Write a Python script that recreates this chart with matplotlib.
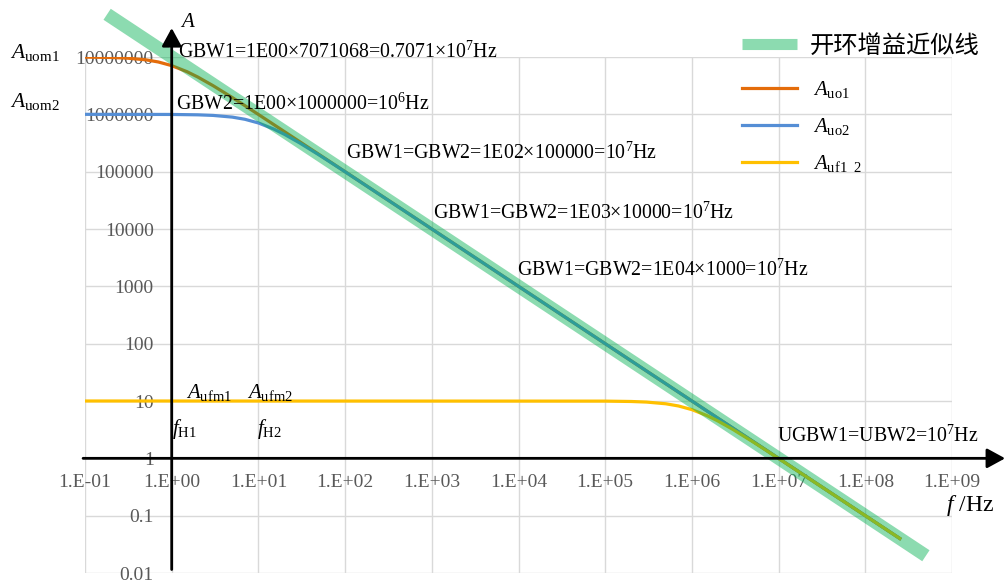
import matplotlib.pyplot as plt

plt.rcParams['font.family'] = ['Liberation Serif', 'Noto Sans CJK SC']
plt.rcParams['mathtext.fontset'] = 'custom'
plt.rcParams['mathtext.rm'] = 'Liberation Serif'
plt.rcParams['mathtext.it'] = 'Liberation Serif:italic'
plt.rcParams['mathtext.bf'] = 'Liberation Serif:bold'

# axis ticks (log-log, Excel style labels)
x_ticks = [1e-1, 1e0, 1e1, 1e2, 1e3, 1e4, 1e5, 1e6, 1e7, 1e8, 1e9]
x_tick_labels = ['1.E-01', '1.E+00', '1.E+01', '1.E+02', '1.E+03', '1.E+04',
                 '1.E+05', '1.E+06', '1.E+07', '1.E+08', '1.E+09']
y_ticks = [1e-2, 1e-1, 1e0, 1e1, 1e2, 1e3, 1e4, 1e5, 1e6, 1e7]
y_tick_labels = ['0.01', '0.1', '1', '10', '100', '1000', '10000',
                 '100000', '1000000', '10000000']

# open-loop gain asymptote (-20dB/dec through 1e7 Hz)
f_asym = [0.18, 5e8]
a_asym = [5.56e7, 0.02]

# A_uo1: open loop, Auom1 = 1e7, fH1 = 1 Hz
f_uo1 = [0.1, 0.2, 0.3, 0.5, 0.7, 1, 1.5, 2, 3, 5, 7, 10, 100, 2.5e8]
a_uo1 = [9950372, 9805807, 9578263, 8944272, 8192319, 7071068, 5547002,
         4472136, 3162278, 1961161, 1414214, 995037, 99995, 0.04]

# A_uo2: open loop, Auom2 = 1e6, fH2 = 10 Hz
f_uo2 = [0.1, 1, 2, 3, 5, 7, 10, 15, 20, 30, 50, 70, 100, 1000, 2.5e8]
a_uo2 = [999950, 995037, 980581, 957826, 894427, 819232, 707107, 554700,
         447214, 316228, 196116, 141421, 99504, 9999.5, 0.04]

# A_uf1,2: closed loop, gain 10, bandwidth 1 MHz
f_uf = [0.1, 1e5, 2e5, 3e5, 5e5, 7e5, 1e6, 1.5e6, 2e6, 3e6, 5e6, 7e6,
        1e7, 1e8, 2.5e8]
a_uf = [10, 9.950, 9.806, 9.578, 8.944, 8.192, 7.071, 5.547, 4.472, 3.162,
        1.961, 1.414, 0.995, 0.1, 0.04]

W, H = 1007, 580
fig = plt.figure(figsize=(W / 100, H / 100), dpi=100)
ax = fig.add_axes([85 / W, 1 - 573 / H, 867 / W, 516 / H])


def px_text(x, y, s, size=14.3, **kw):
    # place text by pixel position (y measured from the top)
    fig.text(x / W, 1 - y / H, s, fontsize=size, va='baseline', **kw)


ax.set_xscale('log')
ax.set_yscale('log')
ax.set_xlim(1e-1, 1e9)
ax.set_ylim(1e-2, 1e7)
ax.set_xticks(x_ticks, x_tick_labels)
ax.set_yticks(y_ticks, y_tick_labels)
ax.minorticks_off()
ax.set_axisbelow(True)
ax.grid(True, color='#D9D9D9', lw=1)

# axes cross at f = 1 Hz, A = 1
ax.spines['left'].set_position(('data', 1))
ax.spines['bottom'].set_position(('data', 1))
for sp in ax.spines.values():
    sp.set_visible(False)
ax.tick_params(axis='both', length=0, labelsize=14, labelcolor='#595959')
ax.tick_params(axis='y', pad=13)
ax.tick_params(axis='x', pad=11)

l_uo1, = ax.plot(f_uo1, a_uo1, color='#E46C0A', lw=2.3, zorder=3)
l_uo2, = ax.plot(f_uo2, a_uo2, color='#558ED5', lw=2.3, zorder=4)
l_uf, = ax.plot(f_uf, a_uf, color='#FFC000', lw=2.3, zorder=5)
l_asym, = ax.plot(f_asym, a_asym, color='#00B050', lw=9.5, alpha=0.45,
                  solid_capstyle='butt', zorder=6, clip_on=False)

arrow = dict(arrowstyle='-|>,head_length=0.55,head_width=0.3', lw=2,
             color='black', mutation_scale=20, shrinkA=0, shrinkB=0)
ax.annotate('', xy=(4.1e9, 1), xytext=(0.095, 1), arrowprops=arrow,
            annotation_clip=False, zorder=10)
ax.annotate('', xy=(1, 3.2e7), xytext=(1, 0.0115), arrowprops=arrow,
            annotation_clip=False, zorder=10)

# legend: asymptote entry on its own, then the three gain curves
leg_kw = dict(loc='upper left', bbox_transform=fig.transFigure, frameon=False,
              labelspacing=0.78, borderpad=0, borderaxespad=0)
leg1 = ax.legend([l_asym], ['开环增益近似线'], fontsize=17.5,
                 handlelength=2.26, handletextpad=0.53,
                 bbox_to_anchor=(742 / W, 1 - 35 / H), **leg_kw)
leg1.legend_handles[0].set_linewidth(8)
ax.add_artist(leg1)
ax.legend([l_uo1, l_uo2, l_uf],
          [r'$\;A_{\mathrm{uo1}}$', r'$\;A_{\mathrm{uo2}}$',
           r'$\;A_{\mathrm{uf1\ \ 2}}$'],
          fontsize=15, handlelength=2.65, handletextpad=0.62,
          bbox_to_anchor=(742 / W, 1 - 79 / H), **leg_kw)

# axis titles
px_text(180, 27, r'$A$', size=15)
px_text(946, 511, r'$f$ /Hz', size=17)

# gain and bandwidth notes
px_text(10, 58, r'$A_{\mathrm{uom1}}$', size=15.5)
px_text(10, 107, r'$A_{\mathrm{uom2}}$', size=15.5)
px_text(178, 58, r'GBW1=1E00×7071068=0.7071×10$^{7}$Hz')
px_text(176, 110, r'GBW2=1E00×1000000=10$^{6}$Hz')
px_text(346, 159, r'GBW1=GBW2=1E02×100000=10$^{7}$Hz')
px_text(433, 219, r'GBW1=GBW2=1E03×10000=10$^{7}$Hz')
px_text(517, 276, r'GBW1=GBW2=1E04×1000=10$^{7}$Hz')
px_text(186, 398, r'$A_{\mathrm{ufm1}}$', size=15)
px_text(247, 398, r'$A_{\mathrm{ufm2}}$', size=15)
px_text(172, 434, r'$f_{\mathrm{H1}}$', size=15)
px_text(257, 434, r'$f_{\mathrm{H2}}$', size=15)
px_text(777, 442, r'UGBW1=UBW2=10$^{7}$Hz')

fig.savefig('out.png', dpi=100)
